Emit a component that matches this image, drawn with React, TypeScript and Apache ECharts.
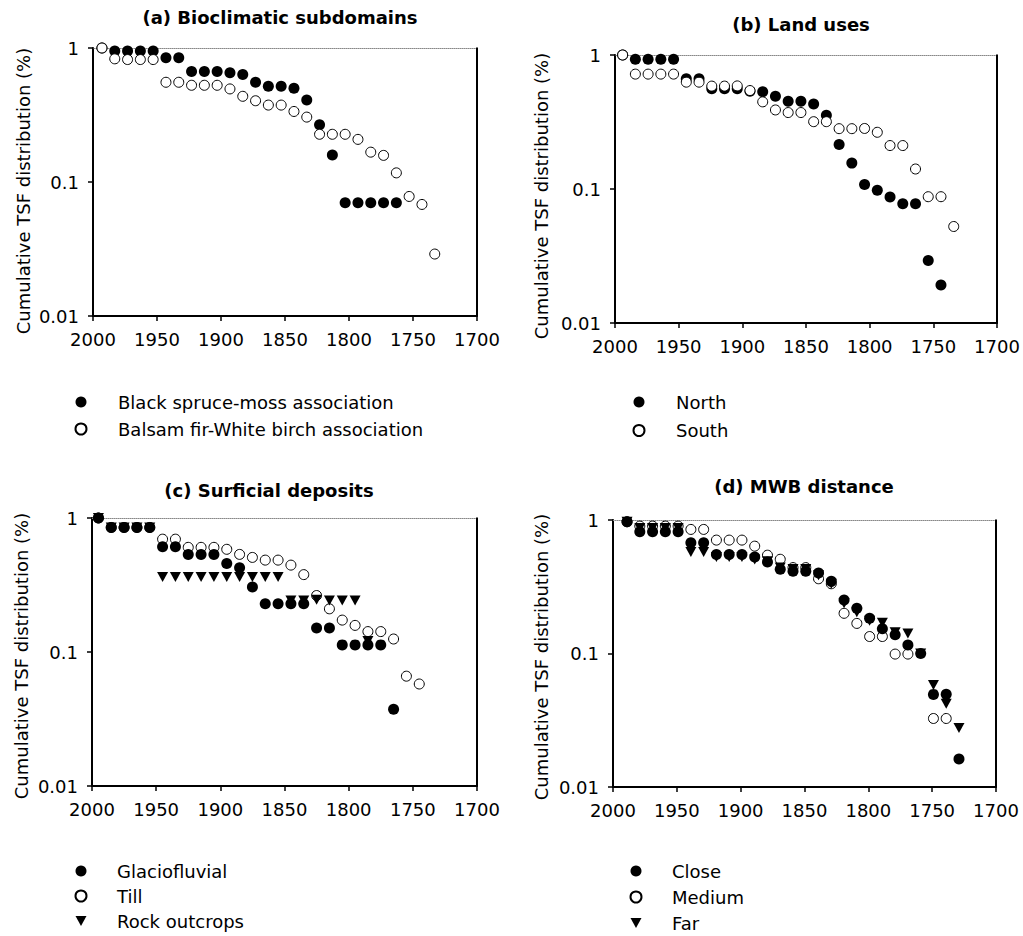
import React, { useEffect, useRef } from "react";
import * as echarts from "echarts";

const FONT = "'DejaVu Sans', 'Liberation Sans', sans-serif";

const panelTitles = [
  "(a) Bioclimatic subdomains",
  "(b) Land uses",
  "(c) Surficial deposits",
  "(d) MWB distance",
];
const yAxisName = "Cumulative TSF distribution (%)";
const xMin = 1700;
const xMax = 2000;
const xStep = 50;
const yMin = 0.01;
const yMax = 1;
const yMid = 0.1;

// (a) Bioclimatic subdomains
const yearsA = [1993, 1983, 1973, 1963, 1953, 1943, 1933, 1923, 1913, 1903, 1893, 1883, 1873, 1863, 1853, 1843, 1833, 1823, 1813, 1803, 1793, 1783, 1773, 1763, 1753, 1743, 1733];
const blackSpruce = [1.0, 0.95, 0.95, 0.95, 0.95, 0.846, 0.846, 0.668, 0.668, 0.668, 0.653, 0.634, 0.555, 0.518, 0.518, 0.5, 0.409, 0.267, 0.159, 0.07, 0.07, 0.07, 0.07, 0.07, null, null, null];
const balsamFir = [1.0, 0.83, 0.82, 0.82, 0.82, 0.555, 0.555, 0.527, 0.527, 0.527, 0.495, 0.436, 0.404, 0.375, 0.375, 0.336, 0.305, 0.227, 0.227, 0.227, 0.208, 0.167, 0.158, 0.117, 0.078, 0.068, 0.029];

// (b) Land uses
const yearsB = [1994, 1984, 1974, 1964, 1954, 1944, 1934, 1924, 1914, 1904, 1894, 1884, 1874, 1864, 1854, 1844, 1834, 1824, 1814, 1804, 1794, 1784, 1774, 1764, 1754, 1744, 1734];
const north = [1.0, 0.928, 0.928, 0.928, 0.928, 0.665, 0.665, 0.559, 0.559, 0.559, 0.537, 0.531, 0.493, 0.452, 0.452, 0.431, 0.355, 0.215, 0.156, 0.108, 0.0977, 0.087, 0.0776, 0.0776, 0.0293, 0.0192, null];
const south = [1.0, 0.72, 0.72, 0.72, 0.72, 0.627, 0.627, 0.586, 0.586, 0.588, 0.543, 0.447, 0.389, 0.372, 0.372, 0.318, 0.318, 0.282, 0.282, 0.283, 0.265, 0.211, 0.211, 0.141, 0.0876, 0.0876, 0.0525];

// (c) Surficial deposits
const yearsC = [1995, 1985, 1975, 1965, 1955, 1945, 1935, 1925, 1915, 1905, 1895, 1885, 1875, 1865, 1855, 1845, 1835, 1825, 1815, 1805, 1795, 1785, 1775, 1765, 1755, 1745];
const glaciofluvial = [1.0, 0.85, 0.85, 0.85, 0.85, 0.611, 0.611, 0.535, 0.535, 0.535, 0.458, 0.425, 0.305, 0.229, 0.229, 0.229, 0.229, 0.151, 0.151, 0.113, 0.113, 0.113, 0.113, 0.0374, null, null];
const till = [1.0, 0.85, 0.85, 0.85, 0.85, 0.695, 0.695, 0.604, 0.604, 0.604, 0.584, 0.535, 0.508, 0.485, 0.485, 0.445, 0.378, 0.264, 0.21, 0.173, 0.158, 0.142, 0.142, 0.125, 0.066, 0.0577];
const rockOutcrops = [1.0, 0.85, 0.85, 0.85, 0.85, 0.363, 0.363, 0.363, 0.363, 0.363, 0.363, 0.363, 0.363, 0.363, 0.363, 0.242, 0.242, 0.245, 0.242, 0.242, 0.242, 0.121, null, null, null, null];

// (d) MWB distance
const yearsD = [1989, 1979, 1969, 1959, 1949, 1939, 1929, 1919, 1909, 1899, 1889, 1879, 1869, 1859, 1849, 1839, 1829, 1819, 1809, 1799, 1789, 1779, 1769, 1759, 1749, 1739, 1729];
const close = [0.97, 0.817, 0.817, 0.817, 0.817, 0.675, 0.675, 0.551, 0.551, 0.551, 0.529, 0.485, 0.427, 0.413, 0.413, 0.401, 0.347, 0.252, 0.218, 0.184, 0.153, 0.138, 0.116, 0.1, 0.0494, 0.0496, 0.0162];
const medium = [0.97, 0.9, 0.9, 0.9, 0.9, 0.85, 0.85, 0.707, 0.707, 0.707, 0.637, 0.545, 0.508, 0.44, 0.44, 0.363, 0.333, 0.2, 0.168, 0.134, 0.134, 0.099, 0.099, null, 0.0326, 0.0326, null];
const far = [0.97, 0.87, 0.87, 0.87, 0.87, 0.577, 0.577, 0.529, 0.529, 0.529, 0.505, 0.49, 0.44, 0.43, 0.43, 0.385, 0.333, 0.238, 0.204, 0.176, 0.17, 0.144, 0.141, 0.1, 0.058, 0.042, 0.0277];

type Kind = "filled" | "open" | "tri";
interface SeriesDef { name: string; years: number[]; values: (number | null)[]; kind: Kind; }

const panelSeries: SeriesDef[][] = [
  [
    { name: "Black spruce-moss association", years: yearsA, values: blackSpruce, kind: "filled" },
    { name: "Balsam fir-White birch association", years: yearsA, values: balsamFir, kind: "open" },
  ],
  [
    { name: "North", years: yearsB, values: north, kind: "filled" },
    { name: "South", years: yearsB, values: south, kind: "open" },
  ],
  [
    { name: "Till", years: yearsC, values: till, kind: "open" },
    { name: "Glaciofluvial", years: yearsC, values: glaciofluvial, kind: "filled" },
    { name: "Rock outcrops", years: yearsC, values: rockOutcrops, kind: "tri" },
  ],
  [
    { name: "Medium", years: yearsD, values: medium, kind: "open" },
    { name: "Far", years: yearsD, values: far, kind: "tri" },
    { name: "Close", years: yearsD, values: close, kind: "filled" },
  ],
];
const legendOrder = [
  ["Black spruce-moss association", "Balsam fir-White birch association"],
  ["North", "South"],
  ["Glaciofluvial", "Till", "Rock outcrops"],
  ["Close", "Medium", "Far"],
];

const gridRects = [
  { left: 93, top: 48, width: 384, height: 268 },
  { left: 615, top: 55, width: 382, height: 268 },
  { left: 92, top: 518, width: 385, height: 268 },
  { left: 613, top: 520, width: 383, height: 267 },
];
const titlePos = [
  [280, 8],
  [801, 15],
  [269, 481],
  [804, 477],
];
const yNamePos = [
  [23, 191],
  [541, 196],
  [21, 656],
  [541, 657],
];
const legendPos = [
  { left: 74.5, top: 393, gap: 9, pad: 26.5 },
  { left: 632.5, top: 393, gap: 10.5, pad: 26.5 },
  { left: 74.5, top: 862, gap: 7, pad: 25.5 },
  { left: 629.5, top: 862, gap: 8, pad: 25.5 },
];

const TRI = "path://M0,0L10,0L5,9Z";

function symbolFor(kind: Kind) {
  if (kind === "filled") return { symbol: "circle", symbolSize: 11, itemStyle: { color: "#000", opacity: 1 } };
  if (kind === "open")
    return {
      symbol: "circle",
      symbolSize: 10,
      itemStyle: { color: "#fff", borderColor: "#000", borderWidth: 1, opacity: 1 },
    };
  return { symbol: TRI, symbolSize: [11, 10], itemStyle: { color: "#000", opacity: 1 } };
}

function buildOption() {
  const grid: any[] = [];
  const xAxis: any[] = [];
  const yAxis: any[] = [];
  const series: any[] = [];
  const title: any[] = [];
  const legend: any[] = [];
  const texts: any[] = [];

  for (let i = 0; i < 4; i++) {
    const g = gridRects[i];
    grid.push({ ...g, containLabel: false, outerBoundsMode: "none" });
    title.push({
      text: panelTitles[i],
      left: titlePos[i][0],
      top: titlePos[i][1],
      textAlign: "center",
      padding: 0,
      textStyle: { fontFamily: FONT, fontSize: 18, fontWeight: "bold", color: "#000" },
    });
    texts.push({
      type: "text",
      x: yNamePos[i][0],
      y: yNamePos[i][1],
      rotation: Math.PI / 2,
      style: {
        text: yAxisName,
        fontFamily: FONT,
        fontSize: 18,
        fill: "#000",
        align: "center",
        verticalAlign: "middle",
        textAlign: "center",
        textVerticalAlign: "middle",
      },
    });
    legend.push({
      orient: "vertical",
      left: legendPos[i].left,
      top: legendPos[i].top,
      padding: 0,
      itemGap: legendPos[i].gap,
      itemWidth: 11,
      itemHeight: 11,
      selectedMode: false,
      data: legendOrder[i],
      textStyle: {
        fontFamily: FONT,
        fontSize: 18,
        color: "#000",
        padding: [0, 0, 0, legendPos[i].pad],
      },
    });
  }
  // bottom / left axes
  for (let i = 0; i < 4; i++) {
    xAxis.push({
      type: "value",
      gridIndex: i,
      inverse: true,
      min: xMin,
      max: xMax,
      interval: xStep,
      position: "bottom",
      axisLine: { onZero: false, lineStyle: { color: "#000", width: 2 } },
      axisTick: { show: true, inside: false, length: 5, lineStyle: { color: "#000", width: 1.5 } },
      axisLabel: {
        margin: 14,
        fontFamily: FONT,
        fontSize: 18,
        color: "#000",
        formatter: (v: number) => String(v),
      },
      splitLine: { show: false },
    });
    yAxis.push({
      type: "log",
      logBase: 10,
      gridIndex: i,
      min: yMin,
      max: yMax,
      position: "left",
      axisLine: { show: true, onZero: false, lineStyle: { color: "#000", width: 2 } },
      axisTick: { show: true, inside: false, length: 5, lineStyle: { color: "#000", width: 1.5 } },
      minorTick: { show: false },
      axisLabel: {
        margin: 14,
        fontFamily: FONT,
        fontSize: 18,
        color: "#000",
        formatter: (v: number) => (v >= 0.5 ? "1" : v >= 0.05 ? "0.1" : "0.01"),
      },
      splitLine: { show: false },
    });
  }
  // top frame axes (dotted grey)
  for (let i = 0; i < 4; i++) {
    xAxis.push({
      type: "value",
      gridIndex: i,
      inverse: true,
      min: xMin,
      max: xMax,
      interval: xStep,
      position: "top",
      axisLine: { onZero: false, lineStyle: { color: "#888", width: 1, type: "dotted" } },
      axisTick: { show: false },
      axisLabel: { show: false },
      splitLine: { show: false },
    });
  }

  panelSeries.forEach((list, i) => {
    list.forEach((s) => {
      const data: [number, number][] = [];
      s.values.forEach((v, k) => {
        if (v !== null && v !== undefined) data.push([s.years[k], v]);
      });
      series.push({
        type: "scatter",
        name: s.name,
        xAxisIndex: i,
        yAxisIndex: i,
        data,
        clip: false,
        silent: true,
        emphasis: { disabled: true },
        ...symbolFor(s.kind),
      });
    });
    // right edge of the plot frame: a thin bar at the axis end (x = 1700), centred on the log mid-point
    series.push({
      type: "scatter",
      name: "frame-" + i,
      xAxisIndex: i,
      yAxisIndex: i,
      data: [[xMin, yMid]],
      symbol: "rect",
      symbolSize: [2, gridRects[i].height + 1],
      itemStyle: { color: "#000", opacity: 1 },
      clip: false,
      silent: true,
      emphasis: { disabled: true },
      z: 5,
    });
  });

  return {
    animation: false,
    backgroundColor: "#fff",
    textStyle: { fontFamily: FONT },
    title,
    legend,
    grid,
    xAxis,
    yAxis,
    series,
    graphic: { elements: texts },
  };
}

export default function App() {
  const ref = useRef<HTMLDivElement>(null);
  useEffect(() => {
    if (!ref.current) return;
    const chart = echarts.init(ref.current, undefined, { renderer: "svg" });
    chart.setOption(buildOption() as any);
    return () => chart.dispose();
  }, []);
  return (
    <div
      ref={ref}
      style={{ position: "absolute", left: 0, top: 0, width: 1023, height: 936, background: "#fff" }}
    />
  );
}
